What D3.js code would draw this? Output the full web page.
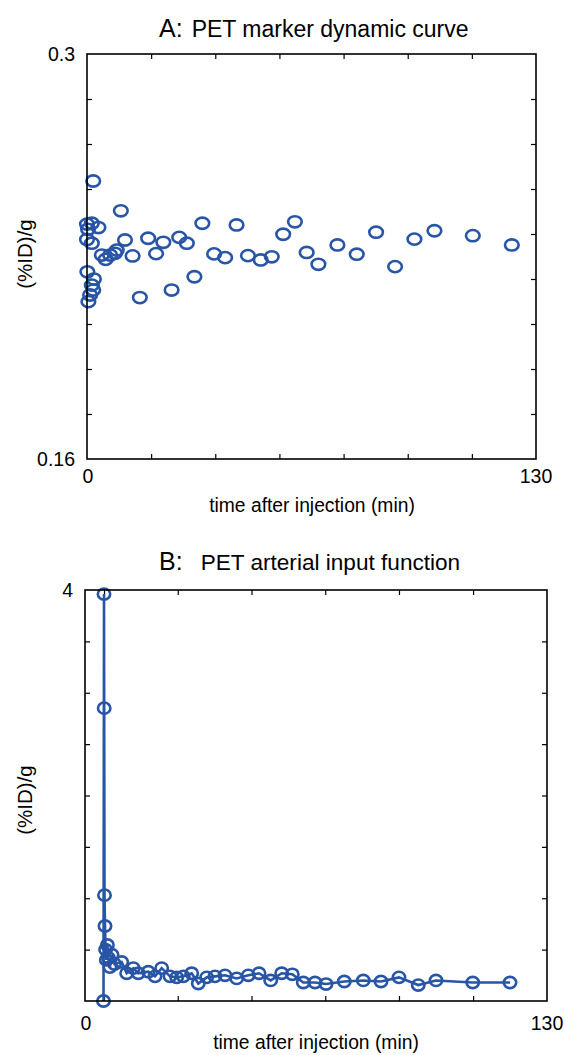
<!DOCTYPE html>
<html><head><meta charset="utf-8">
<script src="https://cdn.jsdelivr.net/npm/d3@7"></script>
<style>
body{margin:0;background:#fff}
svg{display:block}
text{font-family:"Liberation Sans",Arial,Helvetica,sans-serif;fill:#000}
</style>
</head><body>
<svg id="chart" width="565" height="1055"></svg>
<script>
// ---------- Panel A data: PET marker dynamic curve ----------
const timeA = [0.0, 0.0, 0.1, 0.3, 0.4, 0.9, 1.4, 1.4, 1.4, 1.8, 1.8, 2.0, 3.3, 4.3, 5.4, 6.7, 8.1, 8.6, 9.8, 11.0,
  13.2, 15.3, 17.7, 20.0, 22.1, 24.5, 26.7, 28.9, 31.1, 33.4, 36.8, 40.0, 43.3, 46.6, 50.3, 53.5, 56.8, 60.2, 63.6, 67.0,
  72.5, 78.1, 83.7, 89.2, 94.8, 100.6, 111.7, 123.0];
const valueA = [0.2412, 0.2359, 0.2247, 0.2394, 0.2144, 0.2167, 0.2415, 0.2346, 0.2201, 0.2561, 0.2184, 0.2222, 0.2400, 0.2305, 0.2290, 0.2305, 0.2311, 0.2322, 0.2458, 0.2357,
  0.2302, 0.2158, 0.2363, 0.2310, 0.2349, 0.2184, 0.2366, 0.2346, 0.2230, 0.2415, 0.2309, 0.2296, 0.2409, 0.2303, 0.2288, 0.2299, 0.2377, 0.2420, 0.2314, 0.2273,
  0.2340, 0.2308, 0.2384, 0.2265, 0.2360, 0.2389, 0.2372, 0.2340];

// ---------- Panel B data: PET arterial input function ----------
const timeB = [5.21, 5.35, 5.40, 5.49, 5.63, 5.8, 6.0, 6.3, 6.6, 7.0, 7.6, 8.3,
  10.33, 11.73, 13.59, 15.00, 17.81, 19.70, 21.58, 23.92, 25.80, 27.66, 30.02, 31.88, 34.24, 36.58, 39.39, 42.68, 45.95, 48.96,
  52.25, 55.35, 58.33, 61.43, 64.72, 67.81, 72.96, 78.31, 83.29, 88.35, 93.78, 98.77, 109.10, 119.59];
const valueB = [0.0, 3.96, 2.85, 1.03, 0.73, 0.50, 0.40, 0.545, 0.42, 0.33, 0.45, 0.36,
  0.38, 0.27, 0.32, 0.27, 0.285, 0.24, 0.32, 0.24, 0.23, 0.24, 0.27, 0.17, 0.23, 0.24, 0.25, 0.22, 0.25, 0.27,
  0.20, 0.27, 0.26, 0.18, 0.18, 0.165, 0.19, 0.20, 0.19, 0.23, 0.155, 0.20, 0.18, 0.18];

// ---------- Axis tick values / labels ----------
const xDomain = [0, 130];
const xTicksA = [18.57, 37.14, 55.71, 74.29, 92.86, 111.43];
const xTicksB = [5.35, 26.1, 46.85, 67.6, 88.35, 109.2];
const xTickLabels = ["0", "130"];
const yDomainA = [0.16, 0.30];
const yTicksA = [0.17556, 0.19111, 0.20667, 0.22222, 0.23778, 0.25333, 0.26889, 0.28444];
const yTickLabelsA = ["0.3", "0.16"];
const yDomainB = [0, 4];
const yTicksB = [0.5, 1, 1.5, 2, 2.5, 3, 3.5];
const yTickLabelsB = ["4"];
const titlesPrefix = ["A:", "B:"];
const titles = ["PET marker dynamic curve", "PET arterial input function"];
const xTitle = "time after injection (min)";
const yTitle = "(%ID)/g";

const blue = "#2855a5";
const svg = d3.select("#chart");

function panel(cfg) {
  const g = svg.append("g");
  const x = d3.scaleLinear().domain(xDomain).range([cfg.left, cfg.right]);
  const y = d3.scaleLinear().domain(cfg.yDomain).range([cfg.bottom, cfg.top]);

  const tk = 5;
  const ax = [
    [d3.axisBottom(x).tickValues(cfg.xTicks), `translate(0,${cfg.bottom})`],
    [d3.axisTop(x).tickValues(cfg.xTicks), `translate(0,${cfg.top})`],
    [d3.axisLeft(y).tickValues(cfg.yTicks), `translate(${cfg.left},0)`],
    [d3.axisRight(y).tickValues(cfg.yTicks), `translate(${cfg.right},0)`]
  ];
  ax.forEach(([a, tr]) => {
    const ag = g.append("g").attr("transform", tr)
      .call(a.tickSize(-tk).tickFormat(""));
    ag.select(".domain").remove();
    ag.selectAll("line").attr("stroke", "#000").attr("stroke-width", 1.2);
  });

  if (cfg.line) {
    g.append("path")
      .datum(cfg.t.map((t, i) => [t, cfg.v[i]]))
      .attr("fill", "none").attr("stroke", blue).attr("stroke-width", 2.6)
      .attr("d", d3.line().x(d => x(d[0])).y(d => y(d[1])));
  }
  g.append("g").selectAll("ellipse")
    .data(cfg.t.map((t, i) => [t, cfg.v[i]]))
    .join("ellipse")
    .attr("cx", d => x(d[0])).attr("cy", d => y(d[1]))
    .attr("rx", cfg.rx).attr("ry", cfg.ry)
    .attr("fill", "none").attr("stroke", blue).attr("stroke-width", 2.6);

  g.append("rect")
    .attr("x", cfg.left).attr("y", cfg.top)
    .attr("width", cfg.right - cfg.left).attr("height", cfg.bottom - cfg.top)
    .attr("fill", "none").attr("stroke", "#000").attr("stroke-width", 1.6);

  const fs = 19.5;
  cfg.yLabels.forEach((lab, i) => {
    g.append("text")
      .attr("x", cfg.left - 12).attr("y", y(cfg.yLabelVals[i]) + 7)
      .attr("text-anchor", "end").attr("font-size", fs).text(lab);
  });
  g.append("text").attr("x", x(xDomain[0]) + 1).attr("y", cfg.bottom + cfg.xLabDy)
    .attr("text-anchor", "middle").attr("font-size", fs).text(xTickLabels[0]);
  g.append("text").attr("x", x(xDomain[1])).attr("y", cfg.bottom + cfg.xLabDy)
    .attr("text-anchor", "middle").attr("font-size", fs).text(xTickLabels[1]);
  g.append("text").attr("x", cfg.xTitleX).attr("y", cfg.bottom + cfg.xTitleDy)
    .attr("text-anchor", "middle").attr("font-size", 19.3).text(xTitle);
  g.append("text")
    .attr("transform", `translate(${cfg.yTitleX},${cfg.yTitleY}) rotate(-90)`)
    .attr("text-anchor", "middle").attr("font-size", 20.5).text(yTitle);
  const tt = g.append("text").attr("x", cfg.titleX).attr("y", cfg.titleY);
  tt.append("tspan").attr("font-size", 25).text(cfg.prefix);
  tt.append("tspan").attr("font-size", cfg.titleFs).attr("dx", cfg.titleGap).text(cfg.title);
}

panel({
  left: 87, right: 536, top: 54, bottom: 459,
  yDomain: yDomainA, xTicks: xTicksA, yTicks: yTicksA,
  yLabels: yTickLabelsA, yLabelVals: [yDomainA[1], yDomainA[0]],
  t: timeA, v: valueA, line: false, rx: 6.8, ry: 5.6,
  xLabDy: 24, xTitleX: 312, xTitleDy: 53,
  yTitleX: 32, yTitleY: 254, titleX: 159, titleY: 37, prefix: titlesPrefix[0], title: titles[0], titleGap: 9, titleFs: 23
});
panel({
  left: 85, right: 547, top: 590, bottom: 1001,
  yDomain: yDomainB, xTicks: xTicksB, yTicks: yTicksB,
  yLabels: yTickLabelsB, yLabelVals: [yDomainB[1]],
  t: timeB, v: valueB, line: true, rx: 6.2, ry: 5.6,
  xLabDy: 29, xTitleX: 316, xTitleDy: 48,
  yTitleX: 32, yTitleY: 800, titleX: 159, titleY: 570, prefix: titlesPrefix[1], title: titles[1], titleGap: 18, titleFs: 22.6
});
</script>
</body></html>
